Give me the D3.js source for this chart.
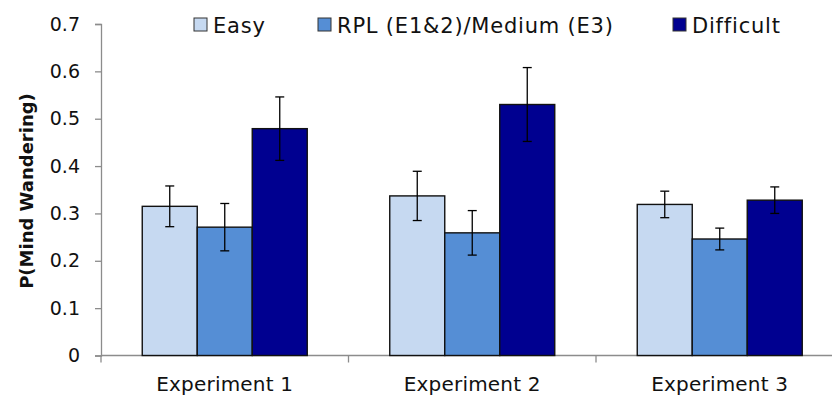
<!DOCTYPE html>
<html>
<head>
<meta charset="utf-8">
<script src="https://cdn.jsdelivr.net/npm/d3@7"></script>
<style>
  body { margin: 0; background: #fff; }
  text { font-family: "DejaVu Sans", sans-serif; fill: #111; }
</style>
</head>
<body>
<div id="chart"></div>
<script>
// categories and series
var experiments = ["Experiment 1", "Experiment 2", "Experiment 3"];
var conditions = ["Easy", "RPL (E1&2)/Medium (E3)", "Difficult"];
var colors = ["#c6d9f1", "#558ed5", "#000090"];

// mean P(mind wandering), one array per condition (E1, E2, E3)
var easyMean = [0.315, 0.337, 0.319];
var mediumMean = [0.271, 0.259, 0.246];
var difficultMean = [0.479, 0.530, 0.328];

// error bar half-widths
var easyErr = [0.043, 0.052, 0.028];
var mediumErr = [0.050, 0.047, 0.023];
var difficultErr = [0.067, 0.078, 0.028];

var yTicks = [0, 0.1, 0.2, 0.3, 0.4, 0.5, 0.6, 0.7];

var width = 832, height = 395;
var margin = {top: 24, left: 101, bottom: 40};
var plotRight = 843.5; // last category runs a bit past the picture edge

var svg = d3.select("#chart").append("svg")
    .attr("width", width)
    .attr("height", height);

var y = d3.scaleLinear().domain([0, 0.7]).range([355.5, margin.top]);
var x0 = d3.scaleBand().domain(experiments).range([margin.left, plotRight]).padding(0);
var x1 = d3.scaleBand().domain(conditions).range([0, x0.bandwidth()])
    .paddingInner(0).paddingOuter(0.75);

// build rows for bars
var means = [easyMean, mediumMean, difficultMean];
var errs = [easyErr, mediumErr, difficultErr];
var rows = [];
experiments.forEach(function(e, i){
    conditions.forEach(function(c, j){
        rows.push({exp: e, cond: c, idx: j, v: means[j][i], err: errs[j][i]});
    });
});

// y axis
var yAxis = svg.append("g")
    .attr("transform", "translate(" + margin.left + ",0)")
    .call(d3.axisLeft(y).tickValues(yTicks).tickSize(6).tickPadding(15)
        .tickFormat(function(d){ return d === 0 ? "0" : d3.format(".1f")(d); }));
yAxis.select(".domain").attr("stroke", "#8c8c8c").attr("stroke-width", 1.3);
yAxis.selectAll(".tick line").attr("stroke", "#8c8c8c").attr("stroke-width", 1.3);
yAxis.selectAll(".tick text").style("font-size", "19px").attr("fill", "#111");

// x axis line + category boundary ticks
svg.append("line")
    .attr("x1", margin.left).attr("x2", width)
    .attr("y1", y(0)).attr("y2", y(0))
    .attr("stroke", "#8c8c8c").attr("stroke-width", 1.3);
svg.append("g").selectAll("line")
    .data(experiments)
    .enter().append("line")
    .attr("x1", function(d){ return x0(d); })
    .attr("x2", function(d){ return x0(d); })
    .attr("y1", y(0)).attr("y2", y(0) + 7)
    .attr("stroke", "#8c8c8c").attr("stroke-width", 1.3);

svg.append("g").selectAll("text")
    .data(experiments)
    .enter().append("text")
    .attr("x", function(d){ return x0(d) + x0.bandwidth() / 2; })
    .attr("y", 391)
    .attr("text-anchor", "middle")
    .style("font-size", "20px")
    .style("letter-spacing", "0.2px")
    .text(function(d){ return d; });

// bars
svg.append("g").selectAll("rect")
    .data(rows)
    .enter().append("rect")
    .attr("x", function(d){ return x0(d.exp) + x1(d.cond); })
    .attr("width", x1.bandwidth())
    .attr("y", function(d){ return y(d.v); })
    .attr("height", function(d){ return y(0) - y(d.v); })
    .attr("fill", function(d){ return colors[d.idx]; })
    .attr("stroke", "#111")
    .attr("stroke-width", 1.4);

// error bars
var eb = svg.append("g").selectAll("g")
    .data(rows)
    .enter().append("g")
    .attr("stroke", "#000")
    .attr("stroke-width", 1.3);
eb.append("line")
    .attr("x1", function(d){ return x0(d.exp) + x1(d.cond) + x1.bandwidth() / 2; })
    .attr("x2", function(d){ return x0(d.exp) + x1(d.cond) + x1.bandwidth() / 2; })
    .attr("y1", function(d){ return y(d.v + d.err); })
    .attr("y2", function(d){ return y(d.v - d.err); });
[1, -1].forEach(function(s){
    eb.append("line")
        .attr("x1", function(d){ return x0(d.exp) + x1(d.cond) + x1.bandwidth() / 2 - 4.5; })
        .attr("x2", function(d){ return x0(d.exp) + x1(d.cond) + x1.bandwidth() / 2 + 4.5; })
        .attr("y1", function(d){ return y(d.v + s * d.err); })
        .attr("y2", function(d){ return y(d.v + s * d.err); });
});

// y title
svg.append("text")
    .attr("transform", "translate(33," + 191 + ") rotate(-90)")
    .attr("text-anchor", "middle")
    .style("font-size", "18px")
    .style("font-weight", "bold")
    .text("P(Mind Wandering)");

// legend
var legendX = [194, 318, 673];
var lg = svg.append("g").selectAll("g")
    .data(conditions)
    .enter().append("g")
    .attr("transform", function(d, i){ return "translate(" + legendX[i] + ",18)"; });
lg.append("rect")
    .attr("width", 13).attr("height", 13)
    .attr("fill", function(d, i){ return colors[i]; })
    .attr("stroke", "#333").attr("stroke-width", 1);
lg.append("text")
    .attr("x", 19).attr("y", 14.5)
    .style("font-size", "21px")
    .style("letter-spacing", "0.8px")
    .text(function(d){ return d; });
</script>
</body>
</html>
